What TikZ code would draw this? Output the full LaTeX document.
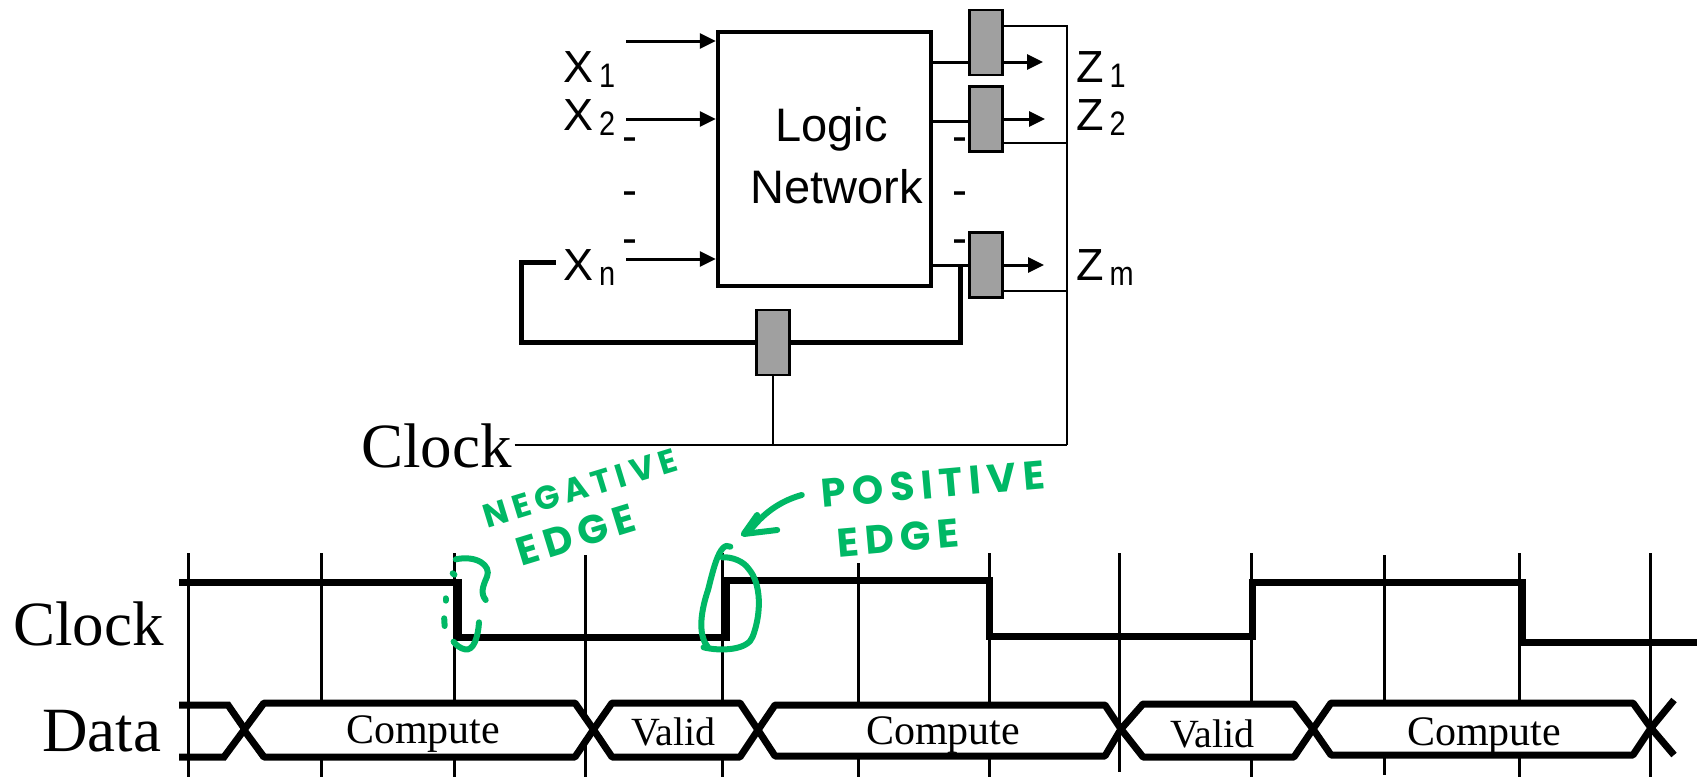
\documentclass[tikz,border=0pt]{standalone}
\usepackage{fontspec}
\setmainfont{Liberation Serif}
\newfontfamily\hv{Liberation Sans}
\newfontfamily\hand[LetterSpace=16]{Poppins}
\usetikzlibrary{arrows.meta}
\definecolor{inkgreen}{HTML}{00B865}
\definecolor{reggray}{HTML}{A0A0A0}
\newcommand{\sublab}[2]{{\hv\fontsize{45}{45}\selectfont #1\hspace{6pt}\raisebox{-5pt}{\scalebox{0.85}[1]{\fontsize{34}{34}\selectfont #2}}}}
\tikzset{
  x=1pt,y=-1pt,
  every node/.style={inner sep=0pt},
  reg/.style={draw=black,fill=reggray,line width=2.5pt,minimum width=33pt,minimum height=65pt},
  logicbox/.style={draw=black,fill=white,line width=4.5pt,minimum width=213pt,minimum height=254pt},
  sig/.style={line width=3pt},
  sigarrow/.style={line width=3pt,-{Triangle[length=16pt,width=15pt]}},
  fback/.style={line width=5pt,line join=miter},
  clk/.style={line width=2.8pt},
  labeltext/.style={anchor=base west},
  dashmark/.style={anchor=base,font=\hv\fontsize{45}{45}\selectfont},
  logictext/.style={anchor=base west,font=\hv\fontsize{47}{47}\selectfont},
  bigserif/.style={anchor=base west,font=\fontsize{63}{63}\selectfont},
  cell/.style={anchor=base west,font=\fontsize{42}{42}\selectfont},
  cellv/.style={anchor=base west,font=\fontsize{40}{40}\selectfont},
  tick/.style={line width=3pt},
  wave/.style={line width=7pt,line join=miter,line cap=butt},
  hexa/.style={line width=7pt,fill=white,line join=bevel},
  ink/.style={draw=inkgreen,line width=6pt,line cap=round,line join=round},
  handtext/.style={text=inkgreen,font=\hand\bfseries\fontsize{40}{40}\selectfont},
}
\begin{document}
\begin{tikzpicture}
\useasboundingbox (0,0) rectangle (1700,777);
% --- logic network
\node[logicbox] (box) at (824.5,159) {};
\node[logictext] (logic) at (775,141) {Logic};
\node[logictext] (network) at (750,203) {Network};
% labels
\node[labeltext] (x1) at (563,82) {\sublab{X}{1}};
\node[labeltext] (x2) at (563,130) {\sublab{X}{2}};
\node[labeltext] (xn) at (563,280) {\sublab{X}{n}};
\node[labeltext] (z1) at (1076,82) {\sublab{Z}{1}};
\node[labeltext] (z2) at (1076,130) {\sublab{Z}{2}};
\node[labeltext] (zm) at (1076,280) {\sublab{Z}{m}};
% dashes
\node[dashmark] (dl1) at (629.5,151) {-};
\node[dashmark] (dl2) at (629.5,205) {-};
\node[dashmark] (dl3) at (629.5,253) {-};
\node[dashmark] (dr1) at (959.5,151) {-};
\node[dashmark] (dr2) at (959.5,205) {-};
\node[dashmark] (dr3) at (959.5,253) {-};
% input arrows
\coordinate (i1) at (626,41);
\coordinate (i2) at (626,119);
\coordinate (in) at (626,259);
\draw[sigarrow] (i1) -- (box.west |- i1);
\draw[sigarrow] (i2) -- (box.west |- i2);
\draw[sigarrow] (in) -- (box.west |- in);
% clock wiring
\node[bigserif] (clocktop) at (361,467) {Clock};
\coordinate (cj) at (1067,445);
\coordinate (cr1) at (1067,26);
\coordinate (cr2) at (1067,143);
\coordinate (cr3) at (1067,291);
\coordinate (fbj) at (960,265);
\coordinate (fbb) at (960,342);
\coordinate (fbl) at (521,342);
\coordinate (fbt) at (521,262);
\coordinate (fbe) at (556,262);
\coordinate (a1) at (1043,62);
\coordinate (a2) at (1045,119);
\coordinate (a3) at (1044,265);
\coordinate (clkstart) at (514.5,445);
% feedback (behind registers)
\draw[fback] (fbj) -- (fbb) -- (fbl) -- (fbt) -- (fbe);
% output stubs
\draw[sig] (box.east |- a1) -- (970,62);
\draw[sig] (box.east |- 0,121) -- (970,121);
% registers
\node[reg] (r1) at (986,42.5) {};
\node[reg] (r2) at (986,119) {};
\node[reg] (r3) at (986,265) {};
\node[reg] (rf) at (773,342.5) {};
\draw[sig] (box.east |- a3) -- (971,265);
\draw[sigarrow] (r1.east |- a1) -- (a1);
\draw[sigarrow] (r2.east |- a2) -- (a2);
\draw[sigarrow] (r3.east |- a3) -- (a3);
\draw[clk] (r1.east |- cr1) -- (cr1) -- (cj);
\draw[clk] (r2.east |- cr2) -- (cr2);
\draw[clk] (r3.east |- cr3) -- (cr3);
\draw[clk] (clkstart) -- (cj);
\draw[clk] (rf.south) -- (rf.south |- cj);
% --- timing ticks
\foreach \xx/\t/\b in {188/553/777,321/553/777,454/553/777,585/555/777,722.5/553/777,858/563/777,989/553/777,1119/553/772,1251/553/777,1384/555/775,1519/553/777,1650/553/777}{
  \draw[tick] (\xx,\t) -- (\xx,\b);
}
% clock wave
\coordinate (c0) at (179,582);
\coordinate (c1) at (458,582);
\coordinate (c2) at (458,637);
\coordinate (c3) at (726,637);
\coordinate (c4) at (726,580);
\coordinate (c5) at (989,580);
\coordinate (c6) at (989,636);
\coordinate (c7) at (1252,636);
\coordinate (c8) at (1252,582);
\coordinate (c9) at (1522,582);
\coordinate (c10) at (1522,642);
\coordinate (c11) at (1697,642);
\draw[wave] (c0) -- (c1) -- (c2) -- (c3) -- (c4) -- (c5) -- (c6) -- (c7) -- (c8) -- (c9) -- (c10) -- (c11);
% data wave
\draw[wave] (179,705) -- (228,705) -- (264,757);
\draw[wave] (179,757) -- (224,757) -- (264,703);
\draw[hexa] (244,730) -- (264,703) -- (575,703) -- (593.5,729.5) -- (575,757) -- (264,757) -- cycle;
\draw[hexa] (593.5,729.5) -- (612,703) -- (740,703) -- (758,730) -- (740,757) -- (612,757) -- cycle;
\draw[hexa] (758,730) -- (775,705) -- (1105,705) -- (1121,729) -- (1105,756) -- (775,756) -- cycle;
\draw[hexa] (1121,729) -- (1143,704) -- (1294,704) -- (1313,729) -- (1294,757) -- (1143,757) -- cycle;
\draw[hexa] (1313,729) -- (1331,703) -- (1633,703) -- (1651,728) -- (1633,755) -- (1331,755) -- cycle;
\draw[wave] (1651,728) -- (1674,700);
\draw[wave] (1651,728) -- (1674,755);
% chart text
\node[bigserif] (clockl) at (13,645) {Clock};
\node[bigserif] (datal) at (42,751) {Data};
\node[cell] (comp1) at (346,743) {Compute};
\node[cellv] (val1) at (631,745) {Valid};
\node[cell] (comp2) at (866,744) {Compute};
\node[cellv] (val2) at (1170,747) {Valid};
\node[cell] (comp3) at (1407,745) {Compute};
% --- handwritten notes
\node[handtext,rotate=17,font=\hand\bfseries\fontsize{33}{33}\selectfont] (neg) at (580,488) {NEGATIVE};
\node[handtext,rotate=17] (edge1) at (576,535) {EDGE};
\node[handtext,rotate=5] (pos) at (933,484) {POSITIVE};
\node[handtext,rotate=5] (edge2) at (898,538) {EDGE};
\begin{scope}[shift={(400,440)},xscale=0.4464,yscale=0.3333]
  \draw[ink] (900,165) .. controls (860,180) and (820,210) .. (785,270);
  \draw[ink] (800,225) -- (770,282) -- (845,270);
  \draw[ink] (740,320) .. controls (715,300) and (700,400) .. (690,450) .. controls (670,530) and (670,590) .. (690,622);
  \draw[ink] (680,622) .. controls (720,635) and (780,630) .. (790,590) .. controls (810,520) and (810,430) .. (780,385) .. controls (770,365) and (745,350) .. (722,352);
  \draw[ink] (125,358) .. controls (170,345) and (205,375) .. (195,410) .. controls (185,440) and (180,460) .. (192,480);
  \draw[ink] (118,400) -- (122,404);
  \draw[ink] (102,475) -- (102,482);
  \draw[ink] (99,535) -- (100,558);
  \draw[ink] (177,547) .. controls (175,590) and (165,635) .. (145,628) .. controls (135,625) and (125,615) .. (120,605);
\end{scope}
\end{tikzpicture}
\end{document}
